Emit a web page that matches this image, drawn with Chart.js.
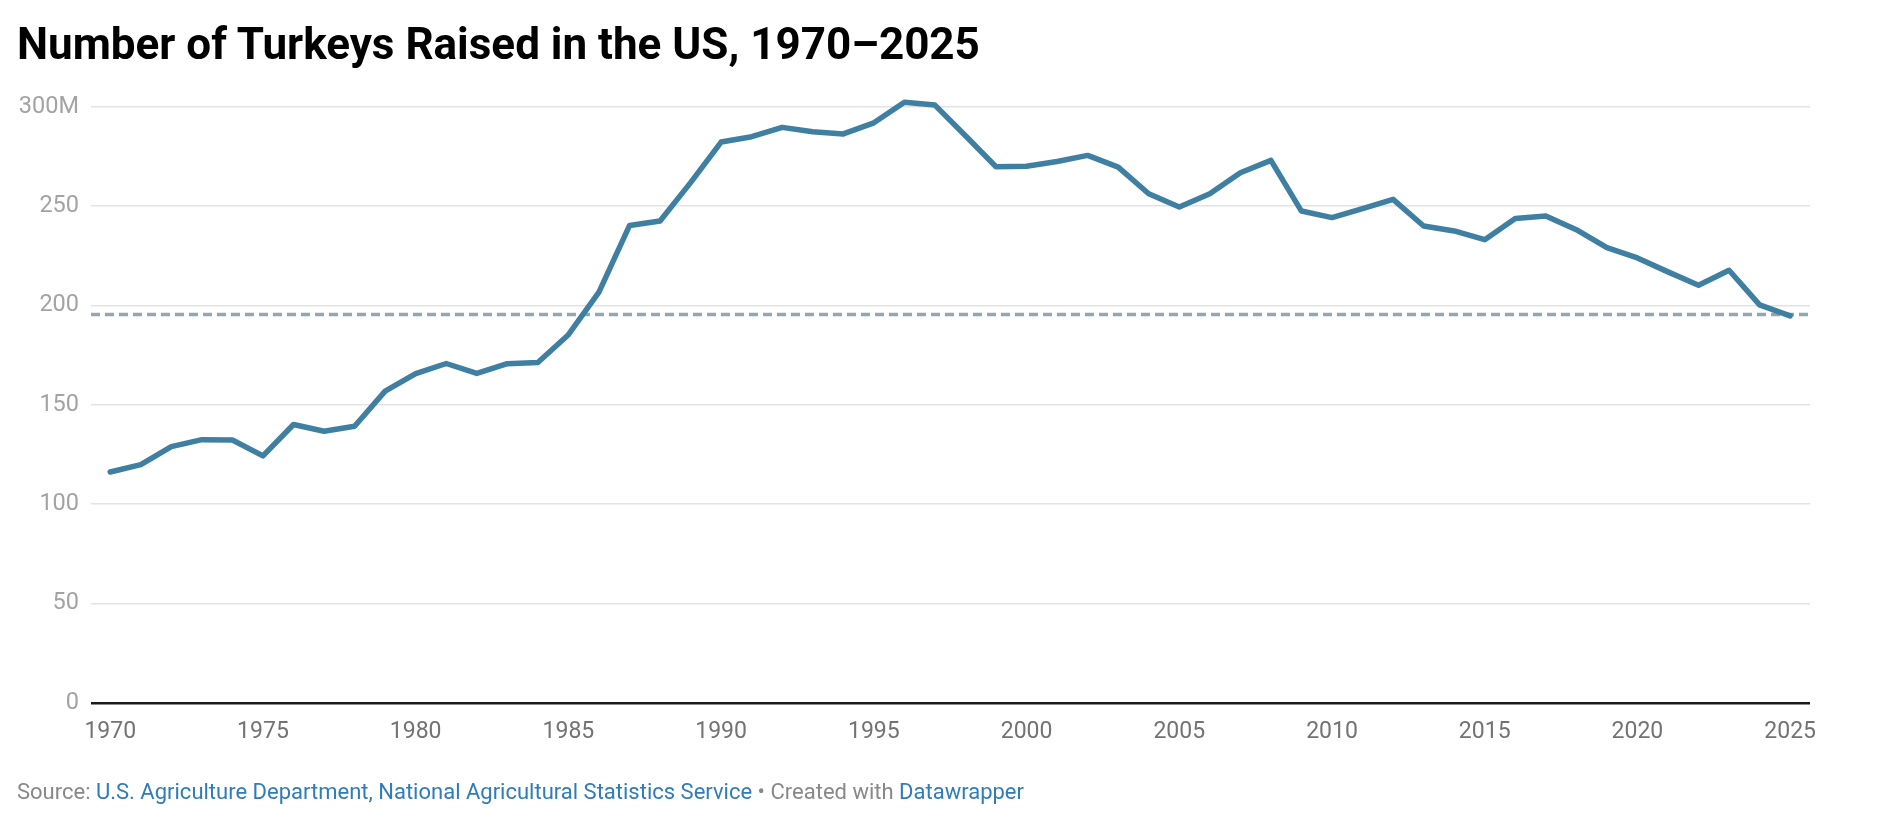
<!DOCTYPE html>
<html lang="en">
<head>
    <meta charset="UTF-8">
    <title>Number of Turkeys Raised in the US, 1970–2025</title>
    <style>
        body {
            margin: 0;
            padding: 0;
            background-color: #fff;
            font-family: Roboto, Arial, sans-serif;
        }

        .title {
            position: absolute;
            left: 17px;
            top: 22px;
            font-size: 44px;
            line-height: 44px;
            font-weight: bold;
            color: #000;
            white-space: nowrap;
        }

        .source {
            position: absolute;
            left: 17px;
            top: 781px;
            font-size: 22px;
            line-height: 22px;
            color: #888;
            white-space: nowrap;
        }

        .source .link {
            color: #2f7cb9;
        }

        .chart-container {
            position: absolute;
            left: 0;
            top: 0;
            width: 1878px;
            height: 834px;
        }
    </style>
</head>
<body>

    <div class="chart-container">
        <canvas id="turkeyChart"></canvas>
    </div>

    <div class="title">Number of Turkeys Raised in the US, 1970–2025</div>
    <div class="source">Source: <span class="link">U.S. Agriculture Department, National Agricultural Statistics Service</span> • Created with <span class="link">Datawrapper</span></div>

    <script src="https://cdn.jsdelivr.net/npm/chart.js"></script>

    <script>
        // Years on the x-axis
        var years = [
            1970, 1971, 1972, 1973, 1974, 1975, 1976, 1977, 1978, 1979,
            1980, 1981, 1982, 1983, 1984, 1985, 1986, 1987, 1988, 1989,
            1990, 1991, 1992, 1993, 1994, 1995, 1996, 1997, 1998, 1999,
            2000, 2001, 2002, 2003, 2004, 2005, 2006, 2007, 2008, 2009,
            2010, 2011, 2012, 2013, 2014, 2015, 2016, 2017, 2018, 2019,
            2020, 2021, 2022, 2023, 2024, 2025
        ];

        // Turkeys raised, millions
        var turkeysRaised = [
            116.2, 119.9, 129.0, 132.5, 132.3, 124.3, 140.1, 136.7, 139.2, 156.9,
            165.7, 170.8, 165.8, 170.7, 171.3, 185.3, 206.7, 240.2, 242.5, 261.8,
            282.2, 284.9, 289.6, 287.4, 286.3, 291.9, 302.2, 300.8, 285.4, 269.8,
            270.0, 272.4, 275.5, 269.6, 256.2, 249.5, 256.2, 266.8, 273.0, 247.5,
            244.2, 248.7, 253.4, 240.0, 237.5, 233.1, 243.7, 245.0, 238.1, 229.1,
            223.9, 216.9, 210.2, 217.7, 200.3, 194.8
        ];

        // Dashed reference level (millions)
        var referenceLevel = 195.5;

        // Tick labels
        var xTickYears = [1970, 1975, 1980, 1985, 1990, 1995, 2000, 2005, 2010, 2015, 2020, 2025];
        var yTickValues = [0, 50, 100, 150, 200, 250, 300];

        var X_MIN = 1969.37;
        var X_MAX = 2025.65;

        var lineData = years.map(function (y, i) {
            return { x: y, y: turkeysRaised[i] };
        });

        var ctx = document.getElementById('turkeyChart').getContext('2d');

        var turkeyChart = new Chart(ctx, {
            type: 'line',
            data: {
                datasets: [
                    {
                        label: 'Turkeys raised',
                        data: lineData,
                        borderColor: '#3f7fa1',
                        borderWidth: 5.5,
                        borderCapStyle: 'round',
                        borderJoinStyle: 'round',
                        pointRadius: 0,
                        tension: 0,
                        fill: false,
                        clip: false
                    },
                    {
                        label: 'Reference',
                        data: [{ x: X_MIN, y: referenceLevel }, { x: X_MAX, y: referenceLevel }],
                        borderColor: '#93a7b1',
                        borderWidth: 3.5,
                        borderDash: [9, 5],
                        pointRadius: 0,
                        fill: false
                    }
                ]
            },
            options: {
                responsive: true,
                maintainAspectRatio: false,
                animation: false,
                layout: {
                    padding: { top: 106.7, right: 68, bottom: 81, left: 0 }
                },
                scales: {
                    x: {
                        type: 'linear',
                        min: X_MIN,
                        max: X_MAX,
                        afterBuildTicks: function (scale) {
                            scale.ticks = xTickYears.map(function (v) { return { value: v }; });
                        },
                        afterFit: function (scale) {
                            scale.height = 50;
                        },
                        grid: { display: false },
                        border: { display: false },
                        ticks: {
                            padding: 7,
                            maxRotation: 0,
                            autoSkip: false,
                            color: '#737373',
                            font: { family: 'Roboto', size: 23 },
                            callback: function (v) { return String(v); }
                        }
                    },
                    y: {
                        min: 0,
                        max: 300,
                        afterBuildTicks: function (scale) {
                            scale.ticks = yTickValues.map(function (v) { return { value: v }; });
                        },
                        afterFit: function (scale) {
                            scale.width = 91;
                        },
                        grid: {
                            drawTicks: false,
                            color: function (c) { return c.tick && c.tick.value === 0 ? '#1a1a1a' : '#e3e3e3'; },
                            lineWidth: function (c) { return c.tick && c.tick.value === 0 ? 2.5 : 1.5; }
                        },
                        border: { display: false },
                        ticks: {
                            padding: 12,
                            color: '#a3a3a3',
                            font: { family: 'Roboto', size: 23.5 },
                            callback: function (v) { return v === 300 ? '300M' : String(v); }
                        }
                    }
                },
                plugins: {
                    legend: { display: false },
                    tooltip: { enabled: false },
                    title: { display: false }
                }
            }
        });
    </script>

</body>
</html>
